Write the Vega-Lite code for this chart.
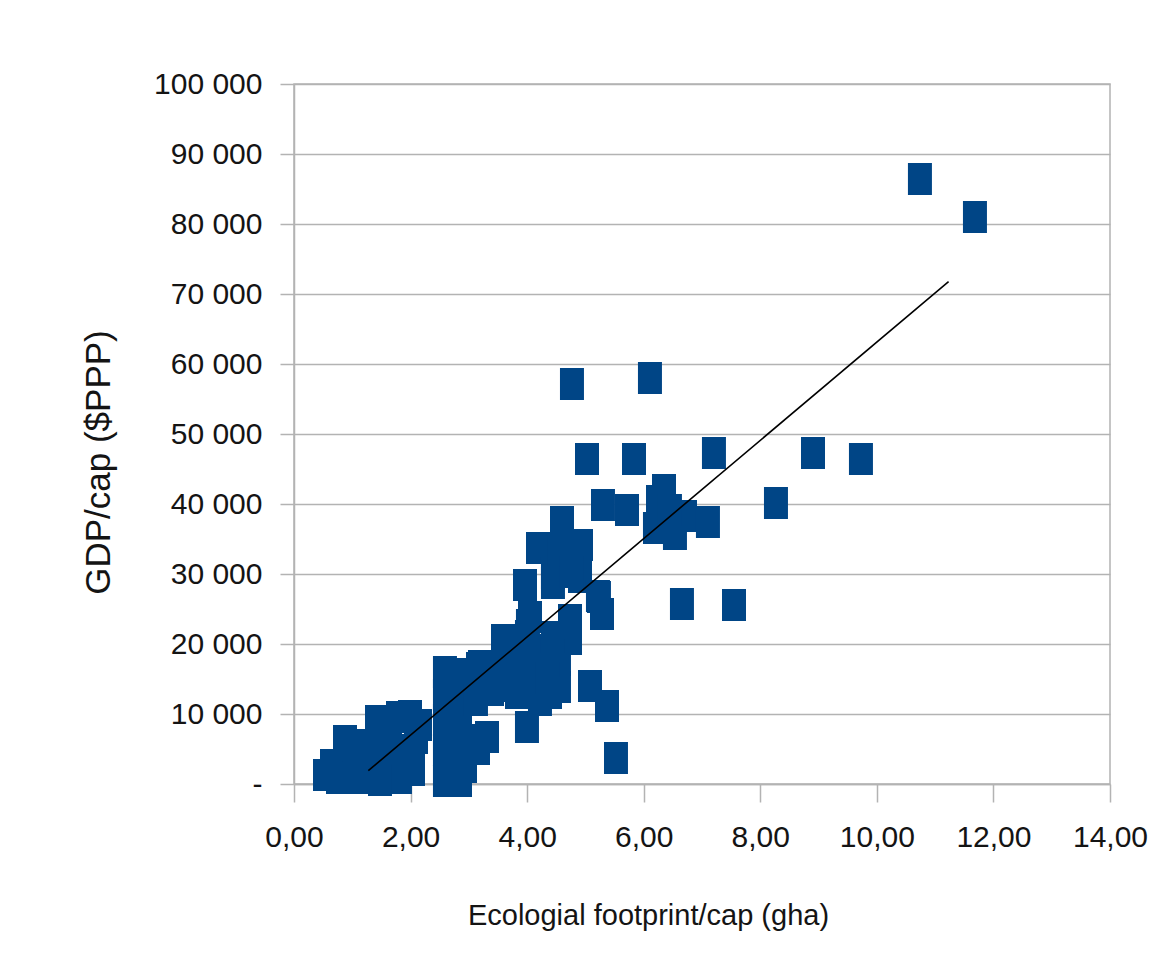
{
  "$schema": "https://vega.github.io/schema/vega-lite/v6.json",
  "width": 816,
  "height": 700,
  "autosize": {"type": "none"},
  "padding": {"left": 294, "top": 84, "right": 41, "bottom": 187},
  "background": "white",
  "config": {
    "view": {"stroke": "#b3b3b3", "strokeWidth": 1.5},
    "axis": {
      "labelFont": "Liberation Sans",
      "titleFont": "Liberation Sans",
      "labelColor": "#141414",
      "titleColor": "#141414",
      "labelFontSize": 30,
      "titleFontSize": 29,
      "titleFontWeight": "normal",
      "domainColor": "#b3b3b3",
      "domainWidth": 1.5,
      "tickColor": "#b3b3b3",
      "tickWidth": 1.5,
      "gridColor": "#b3b3b3",
      "gridWidth": 1.5
    }
  },
  "datasets": {
    "points": [
      {"footprint": 0.532, "gdp": 1286}, {"footprint": 0.652, "gdp": 2714}, {"footprint": 0.875, "gdp": 6143}, {"footprint": 0.875, "gdp": 2000},
      {"footprint": 1.046, "gdp": 4571}, {"footprint": 1.132, "gdp": 857}, {"footprint": 1.338, "gdp": 857}, {"footprint": 1.424, "gdp": 9000},
      {"footprint": 1.338, "gdp": 5571}, {"footprint": 1.561, "gdp": 2714}, {"footprint": 1.647, "gdp": 7000}, {"footprint": 1.784, "gdp": 9571},
      {"footprint": 1.818, "gdp": 857}, {"footprint": 1.904, "gdp": 4857}, {"footprint": 1.990, "gdp": 9714}, {"footprint": 2.042, "gdp": 2000},
      {"footprint": 2.093, "gdp": 6571}, {"footprint": 0.961, "gdp": 5571}, {"footprint": 1.218, "gdp": 3429}, {"footprint": 1.681, "gdp": 4143},
      {"footprint": 1.475, "gdp": 571}, {"footprint": 0.755, "gdp": 857}, {"footprint": 2.162, "gdp": 8429},
      {"footprint": 2.590, "gdp": 429}, {"footprint": 2.848, "gdp": 429}, {"footprint": 2.590, "gdp": 4857}, {"footprint": 2.814, "gdp": 4571},
      {"footprint": 2.590, "gdp": 9143}, {"footprint": 2.848, "gdp": 9143}, {"footprint": 2.590, "gdp": 12714}, {"footprint": 2.814, "gdp": 12714},
      {"footprint": 2.590, "gdp": 16000}, {"footprint": 2.848, "gdp": 15714}, {"footprint": 2.934, "gdp": 2429},
      {"footprint": 3.157, "gdp": 16571}, {"footprint": 3.122, "gdp": 12000}, {"footprint": 3.157, "gdp": 6286}, {"footprint": 3.157, "gdp": 5000},
      {"footprint": 3.311, "gdp": 6714}, {"footprint": 3.397, "gdp": 13429},
      {"footprint": 3.586, "gdp": 20571}, {"footprint": 3.586, "gdp": 16000}, {"footprint": 3.586, "gdp": 14000}, {"footprint": 3.997, "gdp": 8143},
      {"footprint": 3.997, "gdp": 13429}, {"footprint": 3.997, "gdp": 17714}, {"footprint": 3.997, "gdp": 21143}, {"footprint": 4.220, "gdp": 12000},
      {"footprint": 4.546, "gdp": 13857}, {"footprint": 4.546, "gdp": 17714}, {"footprint": 4.735, "gdp": 20714}, {"footprint": 4.306, "gdp": 19143},
      {"footprint": 5.078, "gdp": 14000}, {"footprint": 5.370, "gdp": 11143}, {"footprint": 5.524, "gdp": 3714},
      {"footprint": 4.186, "gdp": 33714}, {"footprint": 3.963, "gdp": 28429}, {"footprint": 4.443, "gdp": 30143}, {"footprint": 4.769, "gdp": 32714},
      {"footprint": 4.924, "gdp": 34143}, {"footprint": 4.598, "gdp": 37429}, {"footprint": 5.232, "gdp": 26714}, {"footprint": 5.284, "gdp": 24286},
      {"footprint": 4.014, "gdp": 22714}, {"footprint": 3.620, "gdp": 20429}, {"footprint": 3.191, "gdp": 16857}, {"footprint": 3.963, "gdp": 17286},
      {"footprint": 4.357, "gdp": 15143}, {"footprint": 5.301, "gdp": 39857}, {"footprint": 5.713, "gdp": 39143}, {"footprint": 4.563, "gdp": 33429},
      {"footprint": 4.443, "gdp": 28714}, {"footprint": 4.907, "gdp": 29571}, {"footprint": 4.049, "gdp": 23857}, {"footprint": 4.735, "gdp": 23429},
      {"footprint": 4.443, "gdp": 21000}, {"footprint": 3.826, "gdp": 16286}, {"footprint": 3.826, "gdp": 13000}, {"footprint": 4.392, "gdp": 13000},
      {"footprint": 4.769, "gdp": 57143}, {"footprint": 6.107, "gdp": 58000}, {"footprint": 5.027, "gdp": 46429}, {"footprint": 5.833, "gdp": 46429},
      {"footprint": 7.205, "gdp": 47286}, {"footprint": 8.904, "gdp": 47286}, {"footprint": 9.727, "gdp": 46429}, {"footprint": 8.269, "gdp": 40143},
      {"footprint": 6.656, "gdp": 25714}, {"footprint": 7.549, "gdp": 25571}, {"footprint": 6.348, "gdp": 42000}, {"footprint": 6.245, "gdp": 40429},
      {"footprint": 6.193, "gdp": 36571}, {"footprint": 6.536, "gdp": 35714}, {"footprint": 6.708, "gdp": 38286}, {"footprint": 7.102, "gdp": 37429},
      {"footprint": 6.450, "gdp": 39143}, {"footprint": 5.215, "gdp": 26857}, {"footprint": 4.735, "gdp": 23000}, {"footprint": 4.769, "gdp": 30286},
      {"footprint": 10.739, "gdp": 86429}, {"footprint": 11.683, "gdp": 81000}
    ],
    "trend": [
      {"footprint": 1.275, "gdp": 1900},
      {"footprint": 11.23, "gdp": 71760}
    ]
  },
  "layer": [
    {
      "data": {"name": "points"},
      "mark": {
        "type": "point",
        "shape": "M-0.75,-1L0.75,-1L0.75,1L-0.75,1Z",
        "filled": true,
        "size": 1024,
        "color": "#004586",
        "opacity": 1
      },
      "encoding": {
        "x": {
          "field": "footprint",
          "type": "quantitative",
          "scale": {"domain": [0, 14], "nice": false, "zero": true},
          "axis": {
            "values": [0, 2, 4, 6, 8, 10, 12, 14],
            "labelExpr": "replace(format(datum.value, '.2f'), '.', ',')",
            "grid": false,
            "tickSize": 18,
            "labelPadding": 20,
            "labelFlush": false,
            "labelOverlap": false,
            "title": "Ecologial footprint/cap (gha)",
            "titleX": 354,
            "titleY": 140,
            "titleAlign": "center",
            "titleBaseline": "alphabetic"
          }
        },
        "y": {
          "field": "gdp",
          "type": "quantitative",
          "scale": {"domain": [0, 100000], "nice": false},
          "axis": {
            "values": [0, 10000, 20000, 30000, 40000, 50000, 60000, 70000, 80000, 90000, 100000],
            "labelExpr": "datum.value == 0 ? '-' : replace(format(datum.value, ','), ',', ' ')",
            "grid": true,
            "tickSize": 14,
            "labelPadding": 18,
            "labelFlush": false,
            "labelOverlap": false,
            "title": "GDP/cap ($PPP)",
            "titleFontSize": 35,
            "titleX": -196,
            "titleY": 378,
            "titleAngle": -90,
            "titleAlign": "center",
            "titleBaseline": "middle"
          }
        }
      }
    },
    {
      "data": {"name": "trend"},
      "mark": {"type": "line", "color": "black", "strokeWidth": 1.6},
      "encoding": {
        "x": {"field": "footprint", "type": "quantitative"},
        "y": {"field": "gdp", "type": "quantitative"}
      }
    }
  ]
}
